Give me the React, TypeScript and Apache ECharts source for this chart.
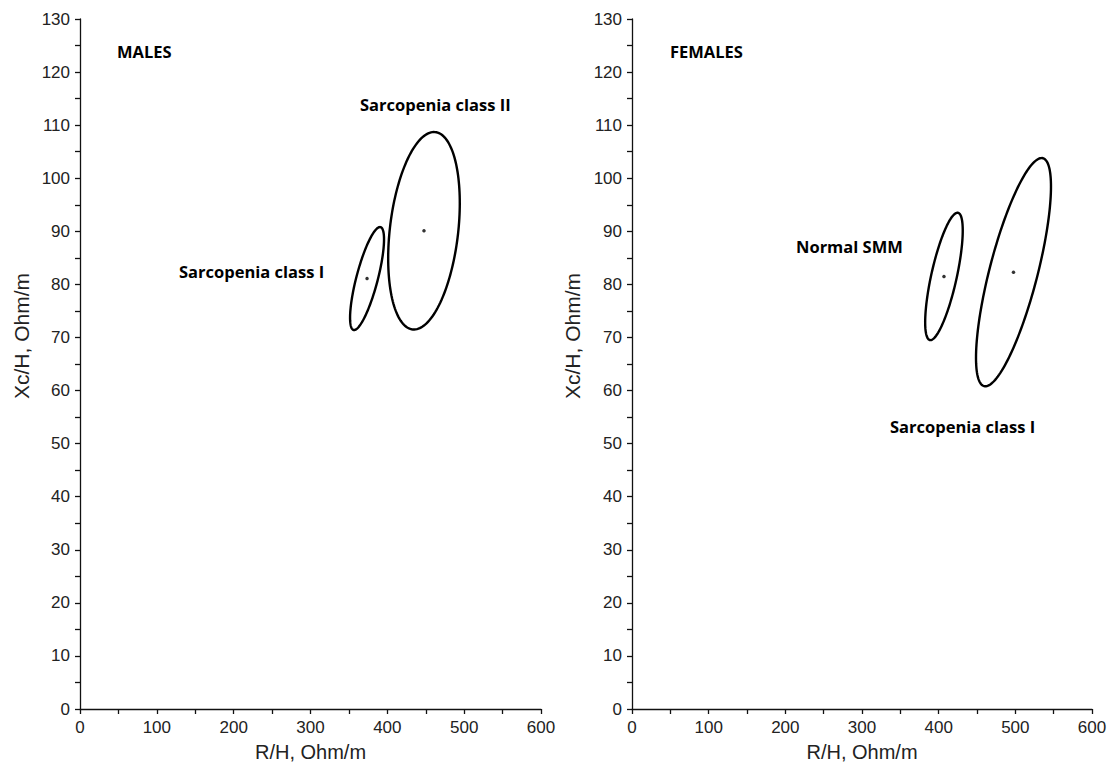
import React, { useEffect, useRef } from "react";
import * as echarts from "echarts";

// Panel titles
const panelTitles = ["MALES", "FEMALES"];

// Axis ticks
const rTicks = [0, 100, 200, 300, 400, 500, 600];
const xcTicks = [0, 10, 20, 30, 40, 50, 60, 70, 80, 90, 100, 110, 120, 130];

// MALES: confidence ellipses (centre, half-ranges, correlation)
const maleGroups = ["Sarcopenia class I", "Sarcopenia class II"];
const maleCenterR = [373.6, 447.7];
const maleCenterXc = [81.1, 90.1];
const maleHalfR = [22.1, 46.6];
const maleHalfXc = [9.7, 18.6];
const maleCorr = [0.76, 0.28];

// FEMALES
const femaleGroups = ["Normal SMM", "Sarcopenia class I"];
const femaleCenterR = [406.9, 497.6];
const femaleCenterXc = [81.5, 82.3];
const femaleHalfR = [24.5, 48.9];
const femaleHalfXc = [12.0, 21.5];
const femaleCorr = [0.72, 0.75];

const AXIS_FONT = "'Liberation Sans', Arial, sans-serif";
const LABEL_FONT = "'Open Sans', 'Noto Sans', sans-serif";

function renderEllipse(params: any, api: any) {
  const cx = api.value(0);
  const cy = api.value(1);
  const a = api.value(2);
  const b = api.value(3);
  const r = api.value(4);
  const s = Math.sqrt(1 - r * r);
  const pts: number[][] = [];
  const n = 160;
  for (let i = 0; i < n; i++) {
    const t = (i / n) * 2 * Math.PI;
    pts.push(
      api.coord([cx + a * Math.cos(t), cy + b * (r * Math.cos(t) + s * Math.sin(t))])
    );
  }
  return {
    type: "polygon",
    shape: { points: pts },
    style: { fill: "none", stroke: "#000", lineWidth: 2.4 },
  };
}

function makeX(gridIndex: number) {
  return {
    type: "value",
    gridIndex,
    min: rTicks[0],
    max: rTicks[rTicks.length - 1],
    interval: 100,
    name: "R/H, Ohm/m",
    nameLocation: "middle",
    nameGap: 33,
    nameTextStyle: { fontSize: 20, color: "#222", fontFamily: AXIS_FONT },
    axisLine: { show: true, onZero: false, lineStyle: { color: "#111", width: 1.3 } },
    axisTick: { show: true, inside: false, length: 5, lineStyle: { color: "#111", width: 1.3 } },
    minorTick: { show: true, splitNumber: 2, length: 5, lineStyle: { color: "#111", width: 1.3 } },
    splitLine: { show: false },
    minorSplitLine: { show: false },
    axisLabel: { fontSize: 17, color: "#222", fontFamily: AXIS_FONT, margin: 10 },
  };
}

function makeY(gridIndex: number) {
  return {
    type: "value",
    gridIndex,
    min: xcTicks[0],
    max: xcTicks[xcTicks.length - 1],
    interval: 10,
    axisLine: { show: true, onZero: false, lineStyle: { color: "#111", width: 1.3 } },
    axisTick: { show: true, inside: false, length: 5, lineStyle: { color: "#111", width: 1.3 } },
    minorTick: { show: true, splitNumber: 2, length: 5, lineStyle: { color: "#111", width: 1.3 } },
    splitLine: { show: false },
    minorSplitLine: { show: false },
    axisLabel: { fontSize: 17, color: "#222", fontFamily: AXIS_FONT, margin: 10 },
  };
}

function ellipseData(cr: number[], cxc: number[], hr: number[], hxc: number[], rho: number[]) {
  return cr.map((v, i) => [v, cxc[i], hr[i], hxc[i], rho[i]]);
}

function centerData(cr: number[], cxc: number[]) {
  return cr.map((v, i) => [v, cxc[i]]);
}

function boldText(text: string, x: number, y: number) {
  return {
    type: "text",
    x,
    y,
    style: {
      text,
      fill: "#000",
      font: `bold 16.5px ${LABEL_FONT}`,
      align: "left",
      verticalAlign: "middle",
    },
  };
}

function yName(x: number, y: number) {
  return {
    type: "text",
    x,
    y,
    rotation: Math.PI / 2,
    style: {
      text: "Xc/H, Ohm/m",
      fill: "#222",
      font: `21px ${AXIS_FONT}`,
      align: "center",
      verticalAlign: "middle",
    },
  };
}

export default function App() {
  const ref = useRef<HTMLDivElement>(null);
  useEffect(() => {
    if (!ref.current) return;
    const chart = echarts.init(ref.current, null, { renderer: "svg" });
    chart.setOption({
      animation: false,
      backgroundColor: "#fff",
      grid: [
        { left: 80, top: 19, width: 461, height: 691 },
        { left: 632, top: 19, width: 460, height: 691 },
      ],
      xAxis: [makeX(0), makeX(1)],
      yAxis: [makeY(0), makeY(1)],
      series: [
        {
          type: "custom",
          name: "MALES ellipses",
          xAxisIndex: 0,
          yAxisIndex: 0,
          renderItem: renderEllipse,
          encode: { x: 0, y: 1 },
          clip: false,
          data: ellipseData(maleCenterR, maleCenterXc, maleHalfR, maleHalfXc, maleCorr),
        },
        {
          type: "custom",
          name: "FEMALES ellipses",
          xAxisIndex: 1,
          yAxisIndex: 1,
          renderItem: renderEllipse,
          encode: { x: 0, y: 1 },
          clip: false,
          data: ellipseData(femaleCenterR, femaleCenterXc, femaleHalfR, femaleHalfXc, femaleCorr),
        },
        {
          type: "scatter",
          xAxisIndex: 0,
          yAxisIndex: 0,
          symbolSize: 3.5,
          itemStyle: { color: "#000" },
          data: centerData(maleCenterR, maleCenterXc),
        },
        {
          type: "scatter",
          xAxisIndex: 1,
          yAxisIndex: 1,
          symbolSize: 3.5,
          itemStyle: { color: "#000" },
          data: centerData(femaleCenterR, femaleCenterXc),
        },
      ],
      graphic: [
        boldText(panelTitles[0], 117, 51),
        boldText(maleGroups[1], 360, 104),
        boldText(maleGroups[0], 179, 271),
        boldText(panelTitles[1], 670, 51),
        boldText(femaleGroups[0], 796, 246),
        boldText(femaleGroups[1], 890, 426),
        yName(21, 336),
        yName(572, 336),
      ],
    });
    return () => chart.dispose();
  }, []);
  return (
    <div
      ref={ref}
      style={{ position: "fixed", left: 0, top: 0, width: 1110, height: 767, background: "#fff" }}
    />
  );
}
